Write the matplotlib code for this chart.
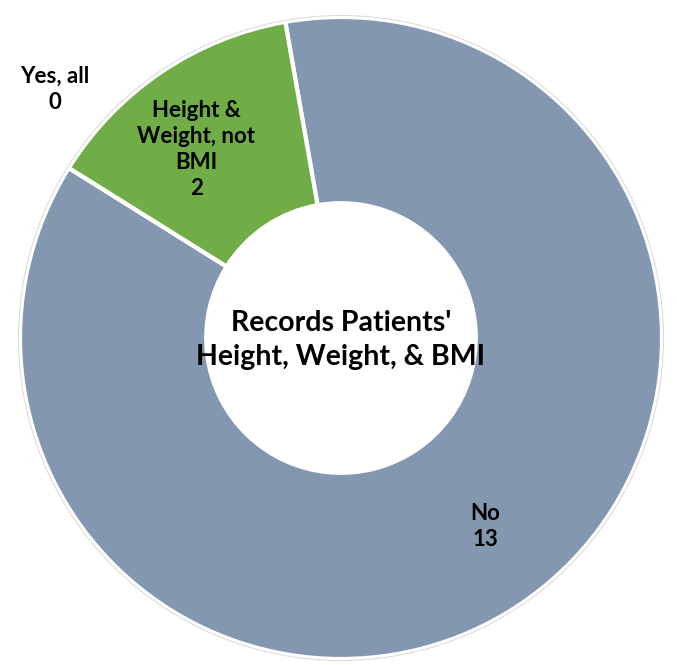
import numpy as np
import matplotlib.pyplot as plt

labels = ["No", "Yes, all", "Height &\nWeight, not\nBMI"]
values = [13, 0, 2]
colors = ["#8497B0", "#8497B0", "#70AD47"]
center_title = "Records Patients'\nHeight, Weight, & BMI"

plt.rcParams['font.family'] = ['Lato', 'DejaVu Sans']

fig = plt.figure(figsize=(6.77, 6.65), dpi=100)
ax = fig.add_axes([0, 0, 1, 1])

R = 321
wedges, _ = ax.pie(values, colors=colors, startangle=100, counterclock=False,
                   radius=R, wedgeprops=dict(width=R * 0.58, edgecolor="white", linewidth=3))

# faint outer outline
ax.add_patch(plt.Circle((0, 0), R + 1.5, fill=False, edgecolor="#d9d9d9", linewidth=0.7))

for w, lab, v in zip(wedges, labels, values):
    mid = np.deg2rad((w.theta1 + w.theta2) / 2 + 3.5)
    if v == 0:
        mid = np.deg2rad(w.theta1 - 9)
        r = R * 1.18
    else:
        r = R * 0.74
    ax.text(r * np.cos(mid), r * np.sin(mid), f"{lab}\n{v}", ha="center", va="center",
            fontsize=16, fontweight="bold", linespacing=1.3)

ax.text(0, -2, center_title, ha="center", va="center", fontsize=20.5,
        fontweight="bold", linespacing=1.35)

ax.set_xlim(-341, 677 - 341)
ax.set_ylim(-(665 - 338), 338)
ax.axis("off")

fig.savefig("out.png", dpi=100)
